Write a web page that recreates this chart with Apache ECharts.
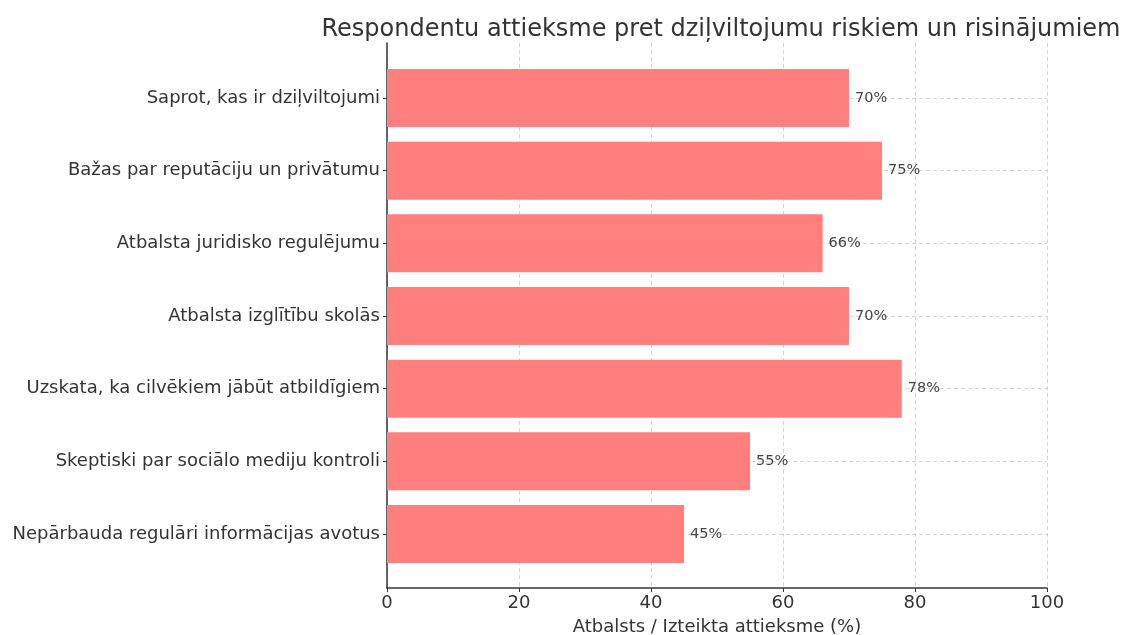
<!DOCTYPE html>
<html>
<head>
<meta charset="utf-8">
<script src="https://cdn.jsdelivr.net/npm/echarts@6/dist/echarts.min.js"></script>
<style>
  html, body { margin: 0; padding: 0; background: #fff; }
  #chart { width: 1121px; height: 635px; }
</style>
</head>
<body>
<div id="chart"></div>
<script>
// Survey statements (top to bottom) and the share of respondents (%)
const categories = [
  'Saprot, kas ir dziļviltojumi',
  'Bažas par reputāciju un privātumu',
  'Atbalsta juridisko regulējumu',
  'Atbalsta izglītību skolās',
  'Uzskata, ka cilvēkiem jābūt atbildīgiem',
  'Skeptiski par sociālo mediju kontroli',
  'Nepārbauda regulāri informācijas avotus'
];
const values = [70, 75, 66, 70, 78, 55, 45];
const xTicks = [0, 20, 40, 60, 80, 100];

const titleText = 'Respondentu attieksme pret dziļviltojumu riskiem un risinājumiem';
const xAxisTitle = 'Atbalsts / Izteikta attieksme (%)';

const FONT = 'DejaVu Sans';
const chart = echarts.init(document.getElementById('chart'));

chart.setOption({
  backgroundColor: '#ffffff',
  animation: false,
  title: {
    text: titleText,
    left: 716,
    textAlign: 'center',
    top: 13,
    textStyle: { fontFamily: FONT, fontSize: 24, fontWeight: 'normal', color: '#333' }
  },
  grid: [
    // frame: spines, x ticks and vertical grid
    { left: 387, right: 74, top: 43, bottom: 47, containLabel: false, outerBoundsMode: 'none' },
    // bars: category points placed at the bar centres
    { left: 387, right: 74, top: 98, bottom: 101, containLabel: false, outerBoundsMode: 'none' }
  ],
  xAxis: [
    {
      gridIndex: 0,
      type: 'value',
      min: 0,
      max: 100,
      interval: 20,
      name: xAxisTitle,
      nameLocation: 'middle',
      nameGap: 30,
      nameTextStyle: { fontFamily: FONT, fontSize: 18, color: '#333' },
      axisLine: { show: true, lineStyle: { color: '#333', width: 1.5 } },
      axisTick: { show: true, length: 4, lineStyle: { color: '#333' } },
      axisLabel: {
        fontFamily: FONT, fontSize: 18, color: '#333', margin: 6,
        formatter: v => (xTicks.includes(v) ? String(v) : '')
      },
      splitLine: { show: true, lineStyle: { color: '#d4d4d4', type: [4, 3], width: 1 } }
    },
    {
      gridIndex: 1,
      type: 'value',
      min: 0,
      max: 100,
      show: false
    }
  ],
  yAxis: [
    {
      gridIndex: 0,
      type: 'value',
      min: 0,
      max: 1,
      axisLine: { show: true, lineStyle: { color: '#333', width: 1.5 } },
      axisTick: { show: false },
      axisLabel: { show: false },
      splitLine: { show: false }
    },
    {
      gridIndex: 1,
      type: 'category',
      data: categories,
      inverse: true,
      boundaryGap: false,
      axisLine: { show: false },
      axisTick: { show: true, length: 4, inside: false, lineStyle: { color: '#333' } },
      axisLabel: { fontFamily: FONT, fontSize: 18, color: '#333', margin: 7 },
      splitLine: { show: true, lineStyle: { color: '#d4d4d4', type: [4, 3], width: 1 } }
    }
  ],
  series: [
    {
      type: 'bar',
      xAxisIndex: 1,
      yAxisIndex: 1,
      data: values,
      barWidth: 58,
      clip: false,
      itemStyle: { color: '#ff7f7f' },
      label: {
        show: true,
        position: 'right',
        distance: 6,
        formatter: p => p.value + '%',
        fontFamily: FONT,
        fontSize: 14.5,
        color: '#444'
      },
      z: 3
    }
  ]
});
</script>
</body>
</html>
